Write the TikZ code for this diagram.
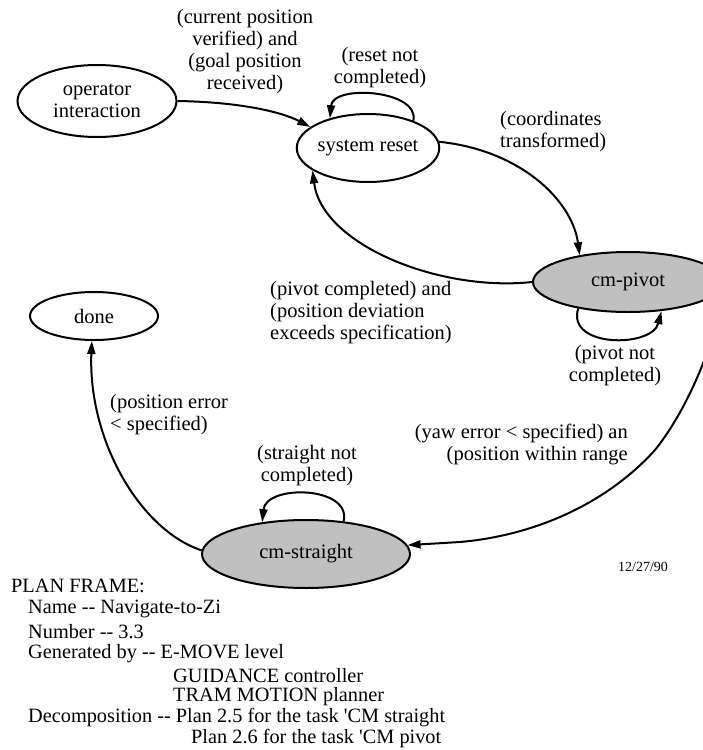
\documentclass[tikz,border=0pt]{standalone}
\usepackage{fontspec}
\setmainfont{Liberation Serif}
\newfontfamily\planfont[Ligatures=TeXOff]{Liberation Serif}
\usetikzlibrary{shapes.geometric,arrows.meta}
\definecolor{stategray}{RGB}{192,192,192}

\begin{document}
\begin{tikzpicture}[x=1pt,y=-1pt,
  state/.style={ellipse, draw, line width=2pt, inner sep=0pt, align=center,
                font=\fontsize{20.5}{22}\selectfont},
  active/.style={state, fill=stategray},
  edge/.style={line width=2pt, -{Triangle[length=13pt,width=8pt]}},
  lbl/.style={inner sep=0pt, font=\fontsize{20.5}{22}\selectfont},
  plan/.style={inner sep=0pt, anchor=west, font=\planfont\fontsize{20.3}{22}\selectfont}]

\useasboundingbox (0,0) rectangle (703,750);
\clip (0,0) rectangle (703,750);

% states
\node[state, minimum width=159pt, minimum height=72pt] (op) at (97,101) {operator\\interaction};
\node[state, minimum width=127pt, minimum height=68pt] (sr) at (368,148) {system reset};
\node[active, minimum width=190pt, minimum height=60pt] (pv) at (628,282) {cm-pivot};
\node[state, minimum width=128pt, minimum height=48pt] (dn) at (94,316) {done};
\node[active, minimum width=208pt, minimum height=68pt] (st) at (306,554) {cm-straight};

% transitions
\draw[edge] (op.east) .. controls (240,102) and (282,112) .. (sr.160);
\draw[edge] (sr.31) .. controls (420,90) and (333,84) .. (sr.142);
\draw[edge] (sr.5) .. controls (520,150) and (572,200) .. (pv.151);
\draw[edge] (pv.west) .. controls (440,292) and (322,245) .. (sr.202);
\draw[edge] (pv.208) .. controls (566,348) and (652,348) .. (pv.319);
\draw[edge] (pv.east) .. controls (722,320) and (695,400) .. (655,450)
            .. controls (610,500) and (540,535) .. (460,542) -- (st.5);
\draw[edge] (st.178) .. controls (140,530) and (88,440) .. (dn.265);
\draw[edge] (st.41) .. controls (352,486) and (266,484) .. (st.144);

% transition conditions
\node[lbl, align=center] (c1) at (245,52) {(current position\\verified) and\\(goal position\\received)};
\node[lbl, align=center] (c2) at (380,68) {(reset not\\completed)};
\node[lbl, align=left, anchor=west] (c3) at (500,132) {(coordinates\\transformed)};
\node[lbl, align=left, anchor=west] (c4) at (270,313) {(pivot completed) and\\(position deviation\\exceeds specification)};
\node[lbl, align=center] (c5) at (615,366) {(pivot not\\completed)};
\node[lbl, align=left, anchor=west] (c6) at (110,415) {(position error\\< specified)};
\node[lbl, align=center] (c7) at (307,466) {(straight not\\completed)};
\node[lbl, align=right, anchor=east] (c8) at (628,444) {(yaw error < specified) an\\(position within range};

\node[inner sep=0pt, font=\fontsize{14}{16}\selectfont] (date) at (643,567) {12/27/90};

% plan frame
\begin{scope}
\clip (0,570) rectangle (446,750);
\node[plan] (p1) at (11,586) {PLAN FRAME:};
\node[plan] (p2) at (28,609) {Name -- Navigate-to-Zi};
\node[plan] (p3) at (28,632) {Number -- 3.3};
\node[plan] (p4) at (28,654) {Generated by -- E-MOVE level};
\node[plan] (p5) at (173,676) {GUIDANCE controller};
\node[plan] (p6) at (173,697) {TRAM MOTION planner};
\node[plan] (p7) at (28,718) {Decomposition -- Plan 2.5 for the task 'CM straight};
\node[plan] (p8) at (191,739) {Plan 2.6 for the task 'CM pivot};
\end{scope}
\end{tikzpicture}
\end{document}
